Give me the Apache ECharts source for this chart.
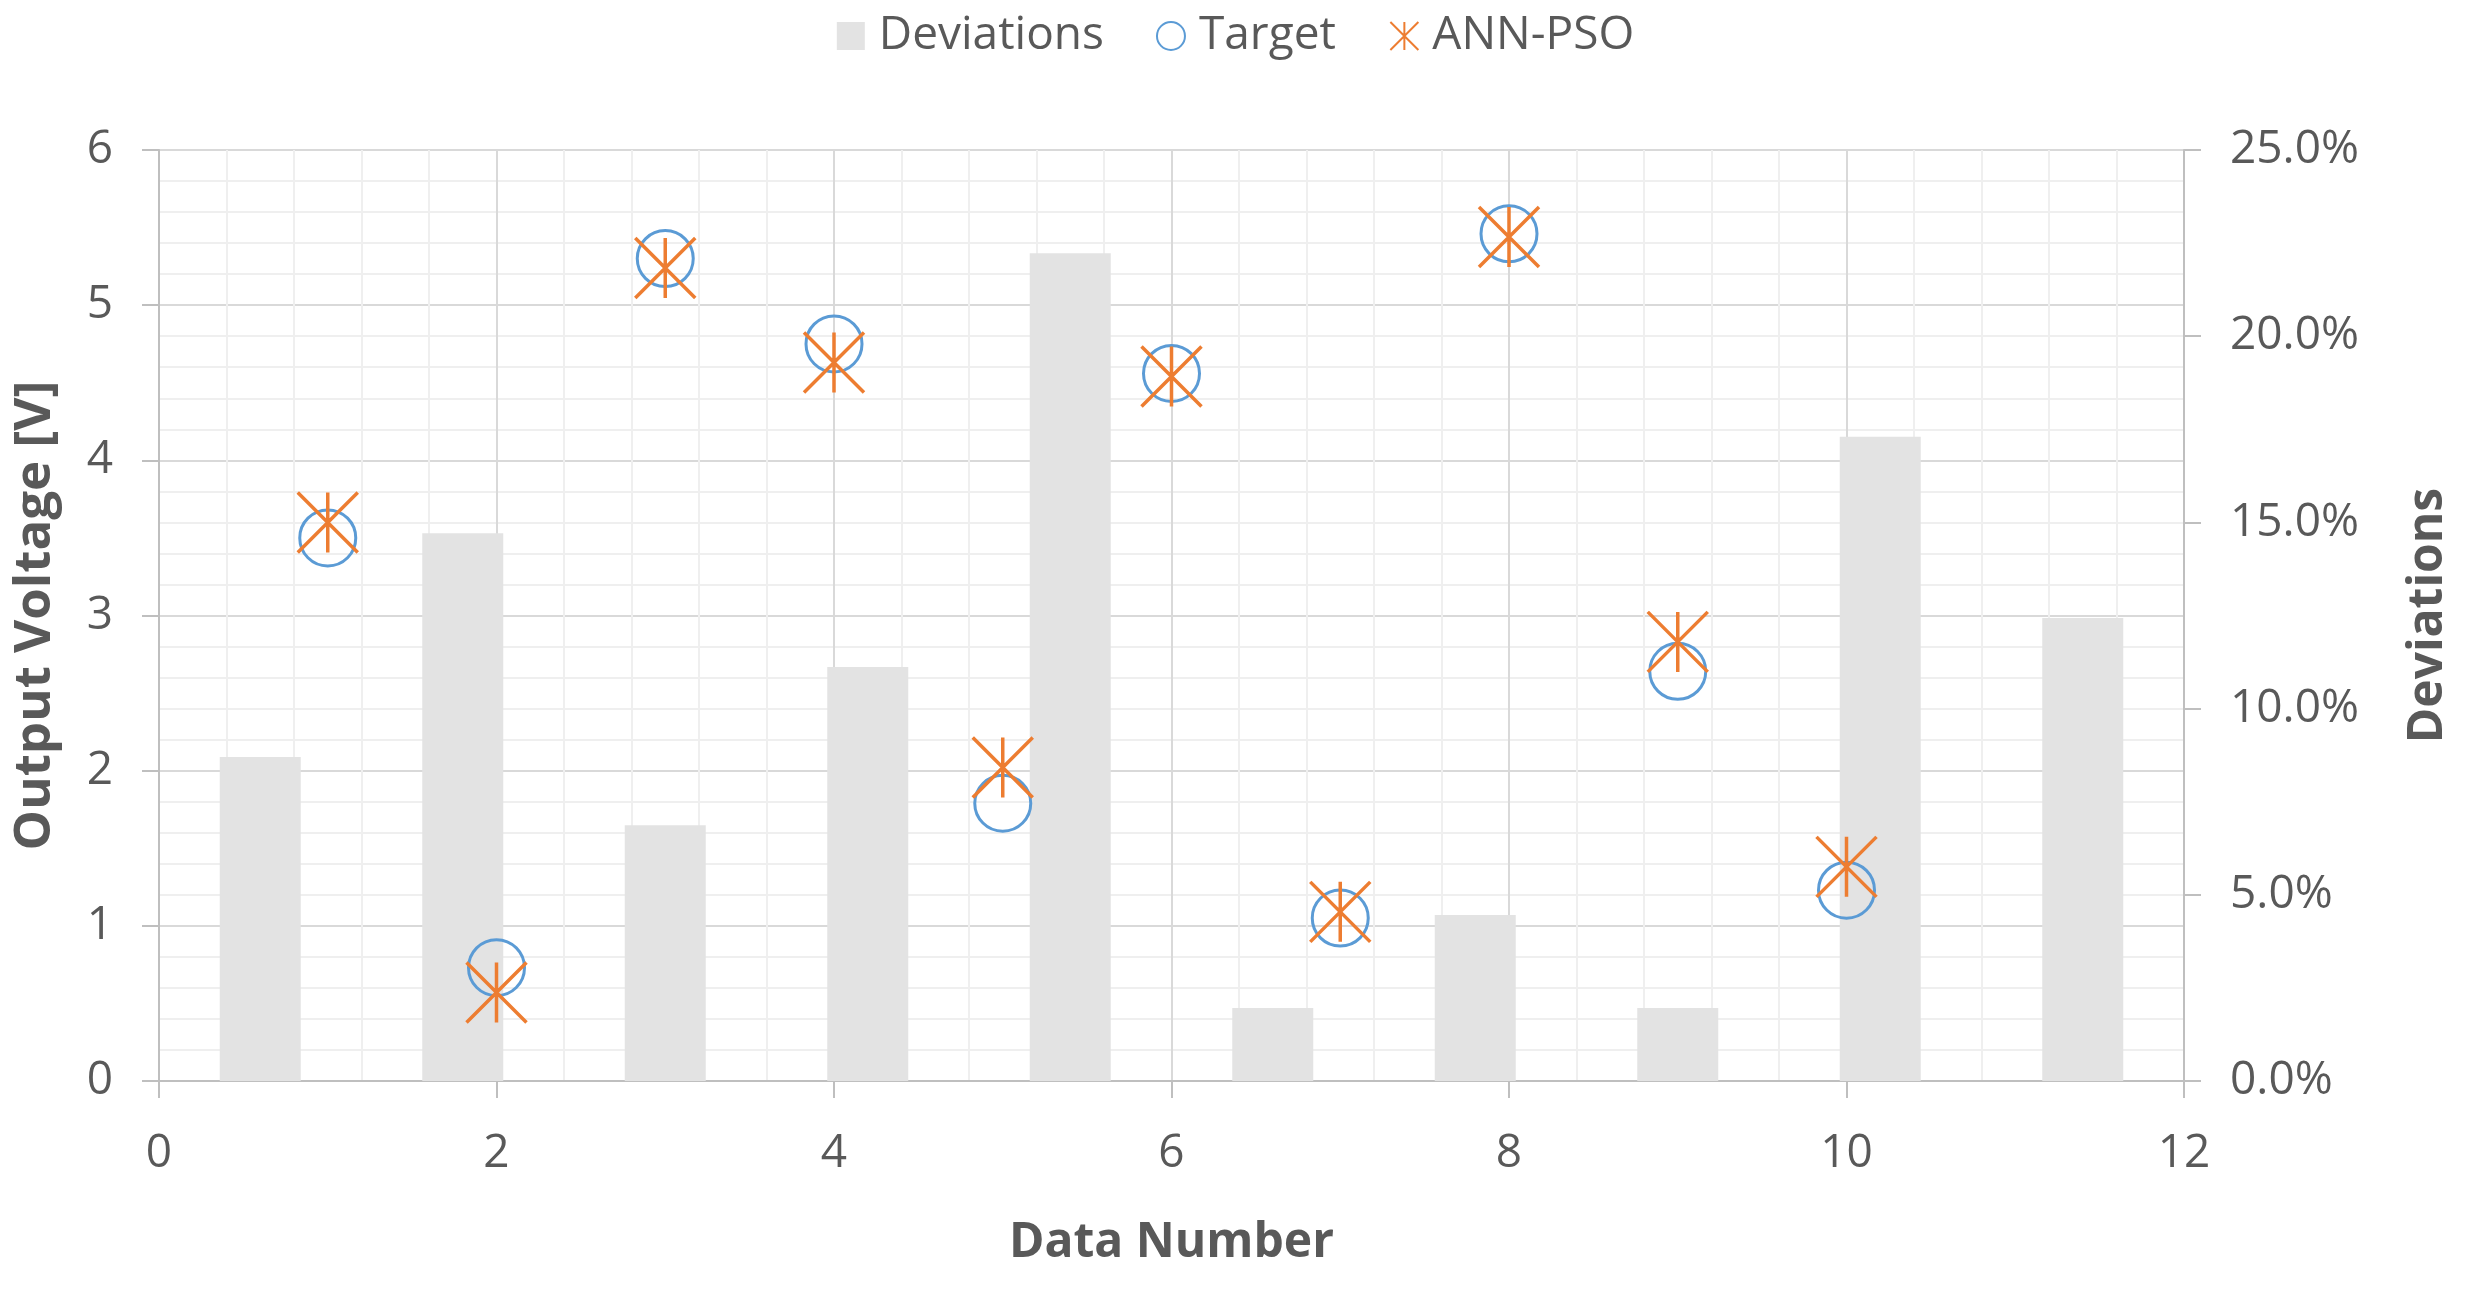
<!DOCTYPE html>
<html>
<head>
<meta charset="utf-8">
<script src="https://cdn.jsdelivr.net/npm/echarts@6/dist/echarts.min.js"></script>
<style>
html,body{margin:0;padding:0;background:#fff;}
#chart{width:2471px;height:1292px;}
</style>
</head>
<body>
<div id="chart"></div>
<script>
// ---- data ----
const dataNumber = [1, 2, 3, 4, 5, 6, 7, 8, 9, 10];
const target     = [3.50, 0.73, 5.30, 4.75, 1.79, 4.56, 1.05, 5.46, 2.64, 1.23];
const annPso     = [3.60, 0.57, 5.24, 4.63, 2.02, 4.54, 1.09, 5.44, 2.83, 1.38];
const deviationCats = ['1', '2', '3', '4', '5', '6', '7', '8', '9', '10'];
const deviations = [8.70, 14.71, 6.87, 11.12, 22.23, 1.96, 4.46, 1.96, 17.30, 12.43]; // percent

const TXT = '#595959';
const FONT = "'Open Sans', 'Noto Sans', sans-serif";
const STAR = 'path://M0,0L20,20M20,0L0,20M10,0L10,20';

const chart = echarts.init(document.getElementById('chart'));
chart.setOption({
  backgroundColor: '#ffffff',
  animation: false,
  textStyle: { fontFamily: FONT },
  legend: {
    top: 8,
    left: 'center',
    itemGap: 52,
    itemWidth: 28,
    itemHeight: 28,
    textStyle: { fontSize: 46, color: TXT, fontFamily: FONT, padding: [0, 0, 0, 9] },
    data: [
      { name: 'Deviations', icon: 'rect' },
      { name: 'Target', icon: 'circle' },
      { name: 'ANN-PSO', icon: STAR }
    ]
  },
  grid: { left: 159, right: 287, top: 150, bottom: 211, containLabel: false },
  xAxis: [
    {
      type: 'value', min: 0, max: 12, interval: 2, position: 'bottom',
      axisLine: { show: true, lineStyle: { color: '#bfbfbf', width: 2 } },
      axisTick: { show: true, length: 17, lineStyle: { color: '#bfbfbf', width: 2 } },
      axisLabel: { fontSize: 46, color: TXT, margin: 50, fontFamily: FONT },
      splitLine: { show: true, lineStyle: { color: '#d9d9d9', width: 2 } },
      minorTick: { show: false, splitNumber: 5 },
      minorSplitLine: { show: true, lineStyle: { color: '#efefef', width: 2 } },
      name: 'Data Number', nameLocation: 'middle', nameGap: 138,
      nameTextStyle: { fontSize: 48, fontWeight: 'bold', color: TXT, fontFamily: FONT }
    },
    {
      type: 'category', data: deviationCats, show: false, boundaryGap: true
    }
  ],
  yAxis: [
    {
      type: 'value', min: 0, max: 6, interval: 1, position: 'left',
      axisLine: { show: true, lineStyle: { color: '#bfbfbf', width: 2 } },
      axisTick: { show: true, length: 17, lineStyle: { color: '#bfbfbf', width: 2 } },
      axisLabel: { fontSize: 46, color: TXT, margin: 46, fontFamily: FONT },
      splitLine: { show: true, lineStyle: { color: '#d9d9d9', width: 2 } },
      minorTick: { show: false, splitNumber: 5 },
      minorSplitLine: { show: true, lineStyle: { color: '#efefef', width: 2 } },
      name: 'Output Voltage [V]', nameLocation: 'middle', nameRotate: 90, nameGap: 98,
      nameTextStyle: { fontSize: 51, fontWeight: 'bold', color: TXT, fontFamily: FONT }
    },
    {
      type: 'value', min: 0, max: 25, interval: 5, position: 'right',
      axisLine: { show: true, lineStyle: { color: '#bfbfbf', width: 2 } },
      axisTick: { show: true, length: 17, lineStyle: { color: '#bfbfbf', width: 2 } },
      axisLabel: { fontSize: 46, color: TXT, margin: 46, fontFamily: FONT,
        formatter: v => v.toFixed(1) + '%' },
      splitLine: { show: false },
      name: 'Deviations', nameLocation: 'middle', nameRotate: 90, nameGap: 220,
      nameTextStyle: { fontSize: 48, fontWeight: 'bold', color: TXT, fontFamily: FONT }
    }
  ],
  series: [
    {
      name: 'Deviations', type: 'bar', xAxisIndex: 1, yAxisIndex: 1,
      barWidth: '40%', data: deviations,
      itemStyle: { color: '#e3e3e3' }, z: 2
    },
    {
      name: 'Target', type: 'scatter', xAxisIndex: 0, yAxisIndex: 0,
      symbol: 'circle', symbolSize: 56,
      data: dataNumber.map((d, i) => [d, target[i]]),
      itemStyle: { color: 'rgba(0,0,0,0)', borderColor: '#5b9bd5', borderWidth: 3, opacity: 1 },
      z: 3
    },
    {
      name: 'ANN-PSO', type: 'scatter', xAxisIndex: 0, yAxisIndex: 0,
      symbol: STAR, symbolSize: 60,
      data: dataNumber.map((d, i) => [d, annPso[i]]),
      itemStyle: { color: 'none', borderColor: '#ed7d31', borderWidth: 3.5, opacity: 1 },
      z: 4
    }
  ]
});
</script>
</body>
</html>
